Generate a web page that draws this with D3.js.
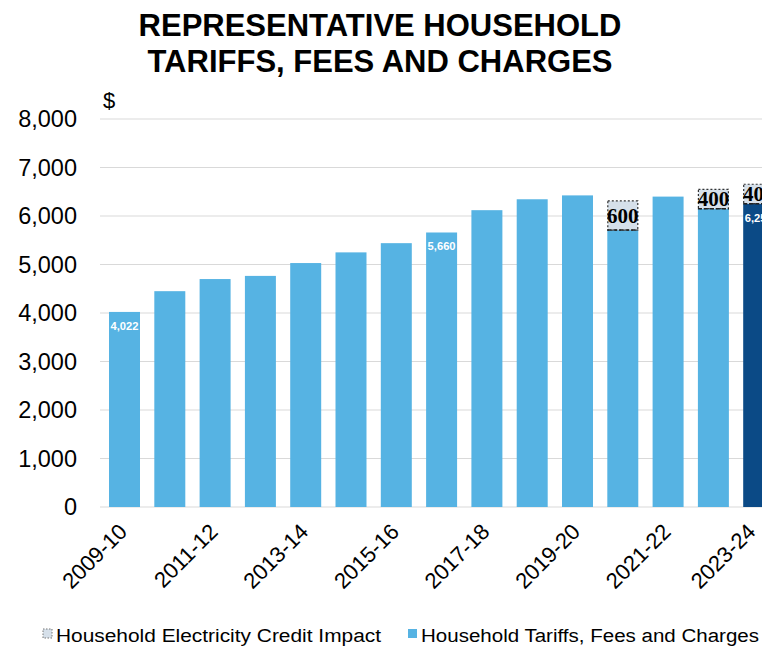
<!DOCTYPE html>
<html>
<head>
<meta charset="utf-8">
<script src="https://cdn.jsdelivr.net/npm/d3@7"></script>
<style>
  body { margin: 0; background: #fff; }
  svg { display: block; font-family: "Liberation Sans", Arial, sans-serif; }
</style>
</head>
<body>
<div id="chart"></div>
<script>
// Data
var years = ["2009-10", "2010-11", "2011-12", "2012-13", "2013-14", "2014-15", "2015-16",
  "2016-17", "2017-18", "2018-19", "2019-20", "2020-21", "2021-22", "2022-23", "2023-24"];
var tariffs = [4022, 4450, 4700, 4765, 5030, 5250, 5440, 5660, 6120, 6345, 6425, 5710, 6400, 6150, 6255];
var credit = [0, 0, 0, 0, 0, 0, 0, 0, 0, 0, 0, 600, 0, 400, 400];
var labelled = ["2009-10", "2016-17", "2023-24"];
var yTicks = [0, 1000, 2000, 3000, 4000, 5000, 6000, 7000, 8000];
var seriesNames = ["Household Electricity Credit Impact", "Household Tariffs, Fees and Charges"];

var W = 762, H = 646;
var blue = "#56b3e3", navy = "#0b4a86", creditFill = "#d6e0ea";

var svg = d3.select("#chart").append("svg").attr("width", W).attr("height", H);

// Title
svg.append("text")
  .attr("x", 380).attr("y", 36)
  .attr("text-anchor", "middle")
  .attr("font-size", 31).attr("font-weight", "bold")
  .text("REPRESENTATIVE HOUSEHOLD");
svg.append("text")
  .attr("x", 380).attr("y", 72)
  .attr("text-anchor", "middle")
  .attr("font-size", 31).attr("font-weight", "bold")
  .text("TARIFFS, FEES AND CHARGES");

// Scales
var x = d3.scaleBand().domain(years).range([94.7, 788.5]).paddingInner(0.316).paddingOuter(0.316);
var y = d3.scaleLinear().domain([0, 8000]).range([507, 119]);

// Grid
svg.append("g").selectAll("line")
  .data(yTicks)
  .join("line")
  .attr("x1", 100).attr("x2", W)
  .attr("y1", function (d) { return y(d); })
  .attr("y2", function (d) { return y(d); })
  .attr("stroke", "#d9d9d9").attr("stroke-width", 1.2);

// Y axis labels
svg.append("g").selectAll("text")
  .data(yTicks)
  .join("text")
  .attr("x", 77)
  .attr("y", function (d) { return y(d); })
  .attr("dy", "0.36em")
  .attr("text-anchor", "end")
  .attr("font-size", 23.5)
  .text(function (d) { return d3.format(",")(d); });

svg.append("text").attr("x", 103).attr("y", 108).attr("font-size", 22).text("$");

// Tariff bars
svg.append("g").selectAll("rect")
  .data(years)
  .join("rect")
  .attr("x", function (d) { return x(d); })
  .attr("width", x.bandwidth())
  .attr("y", function (d, i) { return y(tariffs[i]); })
  .attr("height", function (d, i) { return y(0) - y(tariffs[i]); })
  .attr("fill", function (d, i) { return i === years.length - 1 ? navy : blue; });

// Credit boxes (the last bar runs off the right edge, as in the source)
var cg = svg.append("g");
years.forEach(function (d, i) {
  if (!credit[i]) return;
  var top = y(tariffs[i] + credit[i]), base = y(tariffs[i]);
  cg.append("rect")
    .attr("x", x(d) + 0.5).attr("width", x.bandwidth() - 1)
    .attr("y", top).attr("height", base - top)
    .attr("fill", creditFill)
    .attr("stroke", "#333").attr("stroke-width", 1.2)
    .attr("stroke-dasharray", "2,2");
  cg.append("line")
    .attr("x1", x(d)).attr("x2", x(d) + x.bandwidth())
    .attr("y1", base).attr("y2", base)
    .attr("stroke", "#222").attr("stroke-width", 1.5)
    .attr("stroke-dasharray", "4,2");
  cg.append("text")
    .attr("x", x(d) + x.bandwidth() / 2)
    .attr("y", (top + base) / 2)
    .attr("dy", "0.35em")
    .attr("text-anchor", "middle")
    .attr("font-family", "'Liberation Serif', 'Times New Roman', serif")
    .attr("font-weight", "bold")
    .attr("font-size", 21)
    .text(d3.format(",")(credit[i]));
});

// Value labels
svg.append("g").selectAll("text")
  .data(years.filter(function (d) { return labelled.indexOf(d) >= 0; }))
  .join("text")
  .attr("x", function (d) { return x(d) + x.bandwidth() / 2; })
  .attr("y", function (d) { return y(tariffs[years.indexOf(d)]) + 18; })
  .attr("text-anchor", "middle")
  .attr("font-size", 10).attr("font-weight", "bold")
  .attr("fill", "#fff")
  .attr("textLength", 28).attr("lengthAdjust", "spacingAndGlyphs")
  .text(function (d) { return d3.format(",")(tariffs[years.indexOf(d)]); });

// X axis labels (every other year)
svg.append("g").selectAll("text")
  .data(years.filter(function (d, i) { return i % 2 === 0; }))
  .join("text")
  .attr("transform", function (d) {
    var ax = Math.min(x(d) + x.bandwidth() / 2 + 4, W - 5);
    return "translate(" + ax + ",533) rotate(-45)";
  })
  .attr("text-anchor", "end")
  .attr("font-size", 22)
  .text(function (d) { return d; });

// Legend
var lg = svg.append("g").attr("font-size", 18);
lg.append("rect").attr("x", 43).attr("y", 629).attr("width", 9).attr("height", 9)
  .attr("fill", creditFill).attr("stroke", "#777").attr("stroke-dasharray", "1.5,1.5");
lg.append("text").attr("x", 56).attr("y", 642)
  .attr("textLength", 325).attr("lengthAdjust", "spacingAndGlyphs")
  .text(seriesNames[0]);
lg.append("rect").attr("x", 408).attr("y", 629).attr("width", 9).attr("height", 9).attr("fill", blue);
lg.append("text").attr("x", 421).attr("y", 642)
  .attr("textLength", 338).attr("lengthAdjust", "spacingAndGlyphs")
  .text(seriesNames[1]);
</script>
</body>
</html>
